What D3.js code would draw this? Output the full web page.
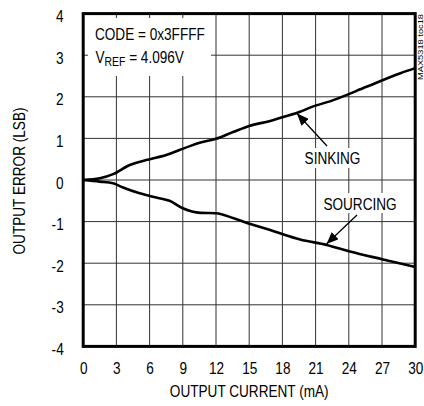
<!DOCTYPE html>
<html>
<head>
<meta charset="utf-8">
<script src="https://cdn.jsdelivr.net/npm/d3@7"></script>
<style>
  html, body { margin: 0; padding: 0; background: #fff; }
  svg { display: block; }
  text { font-family: "Liberation Sans Narrow", "Arial Narrow", "Liberation Sans", Arial, sans-serif; fill: #000; }
</style>
</head>
<body>
<svg id="chart" width="424" height="406"></svg>
<script>
// ---- data ----
const xTicks = [0, 3, 6, 9, 12, 15, 18, 21, 24, 27, 30];
const yTicks = [-4, -3, -2, -1, 0, 1, 2, 3, 4];

const sinkCurrent = [0, 1.5, 2.7, 4.2, 5.7, 7.5, 8.7, 9.7, 10.6, 12, 13.6, 15, 16.9, 18, 19.6, 20.5, 22.6, 25.6, 28.6, 30];
const sinkError   = [0, 0.04, 0.14, 0.36, 0.48, 0.60, 0.72, 0.82, 0.90, 0.99, 1.16, 1.30, 1.42, 1.51, 1.64, 1.74, 1.92, 2.24, 2.56, 2.69];

const sourceCurrent = [0, 1.5, 2.7, 3.6, 5.1, 6.6, 7.8, 9.0, 10.6, 12.0, 13.6, 15.1, 16.9, 18.1, 19.6, 22.0, 24.1, 27.1, 30];
const sourceError   = [0, -0.04, -0.08, -0.18, -0.32, -0.42, -0.50, -0.68, -0.79, -0.80, -0.92, -1.06, -1.20, -1.31, -1.43, -1.56, -1.72, -1.91, -2.09];

const xTitle = "OUTPUT CURRENT (mA)";
const yTitle = "OUTPUT ERROR (LSB)";
const noteLine1 = "CODE = 0x3FFFF";
const sinkLabel = "SINKING";
const sourceLabel = "SOURCING";
const figId = "MAX5318 toc18";

// ---- layout ----
const pLeft = 83.2, pRight = 415.2, pTop = 13.6, pBottom = 346.4;
const FS = 17, SX = 0.8;   // font size and horizontal condensing
const svg = d3.select("#chart");
const x = d3.scaleLinear().domain([0, 30]).range([pLeft, pRight]);
const y = d3.scaleLinear().domain([-4, 4]).range([pBottom, pTop]);

function ntext(px, py, str, anchor, rot) {
  return svg.append("text")
    .attr("transform", `translate(${px},${py})` + (rot ? ` rotate(${rot})` : "") + ` scale(${SX},1)`)
    .attr("text-anchor", anchor || "start").attr("font-size", FS).text(str);
}

// grid
const grid = svg.append("g").attr("stroke", "#333").attr("stroke-width", 1);
grid.selectAll("line.v").data(xTicks.slice(1, -1)).join("line").attr("class", "v")
  .attr("x1", d => x(d)).attr("x2", d => x(d)).attr("y1", pTop).attr("y2", pBottom);
grid.selectAll("line.h").data(yTicks.slice(1, -1)).join("line").attr("class", "h")
  .attr("y1", d => y(d)).attr("y2", d => y(d)).attr("x1", pLeft).attr("x2", pRight);

// white boxes behind annotations
svg.append("rect").attr("x", 88).attr("y", 18).attr("width", 123).attr("height", 58).attr("fill", "#fff");
svg.append("rect").attr("x", 302).attr("y", 148).attr("width", 62).attr("height", 20).attr("fill", "#fff");
svg.append("rect").attr("x", 320).attr("y", 193).attr("width", 80).attr("height", 20).attr("fill", "#fff");

// curves
const line = d3.line().x(d => x(d[0])).y(d => y(d[1])).curve(d3.curveMonotoneX);
svg.append("path").datum(d3.zip(sinkCurrent, sinkError)).attr("d", line)
  .attr("fill", "none").attr("stroke", "#000").attr("stroke-width", 2.6).attr("stroke-linejoin", "round");
svg.append("path").datum(d3.zip(sourceCurrent, sourceError)).attr("d", line)
  .attr("fill", "none").attr("stroke", "#000").attr("stroke-width", 2.6).attr("stroke-linejoin", "round");

// frame
svg.append("rect").attr("x", pLeft).attr("y", pTop).attr("width", pRight - pLeft).attr("height", pBottom - pTop)
  .attr("fill", "none").attr("stroke", "#000").attr("stroke-width", 3);

// axes (labels only)
const xAxis = svg.append("g").attr("transform", `translate(0,${pBottom})`)
  .call(d3.axisBottom(x).tickValues(xTicks).tickSize(0).tickPadding(16).tickFormat(d3.format("d")));
const yAxis = svg.append("g").attr("transform", `translate(${pLeft},0)`)
  .call(d3.axisLeft(y).tickValues(yTicks).tickSize(0).tickPadding(24.4).tickFormat(d => d < 0 ? "-" + Math.abs(d) : String(d)));
[xAxis, yAxis].forEach(a => {
  a.attr("font-family", null).attr("font-size", null);
  a.select(".domain").remove();
  a.selectAll("text").attr("font-size", FS).attr("fill", "#000").attr("transform", `scale(${SX},1)`);
});
yAxis.selectAll("text").attr("dy", "0.48em");

// titles
ntext((pLeft + pRight) / 2, 397, xTitle, "middle");
ntext(25, 181, yTitle, "middle", -90);

// note box
ntext(95, 40, noteLine1);
const t2 = svg.append("text").attr("transform", `translate(95.5,62.5) scale(${SX},1)`).attr("font-size", FS);
t2.append("tspan").text("V");
t2.append("tspan").attr("font-size", 13).attr("dy", 3).text("REF");
t2.append("tspan").attr("dy", -3).text(" = 4.096V");

// labels & arrows
svg.append("defs").append("marker").attr("id", "ah")
  .attr("viewBox", "0 0 12 10").attr("refX", 12).attr("refY", 5)
  .attr("markerWidth", 12).attr("markerHeight", 10).attr("markerUnits", "userSpaceOnUse")
  .attr("orient", "auto")
  .append("path").attr("d", "M0,0 L12,5 L0,10 Z").attr("fill", "#000");

ntext(332.5, 164, sinkLabel, "middle");
ntext(360, 210, sourceLabel, "middle");

svg.append("line").attr("x1", 327).attr("y1", 146).attr("x2", 297).attr("y2", 113.5)
  .attr("stroke", "#000").attr("stroke-width", 1.3).attr("marker-end", "url(#ah)");
svg.append("line").attr("x1", 357).attr("y1", 215).attr("x2", 326.5).attr("y2", 244)
  .attr("stroke", "#000").attr("stroke-width", 1.3).attr("marker-end", "url(#ah)");

// figure id
svg.append("text").attr("transform", "translate(422.5,80) rotate(-90)")
  .attr("font-size", 7.5).attr("fill", "#000").attr("textLength", 66).attr("lengthAdjust", "spacingAndGlyphs").text(figId);
</script>
</body>
</html>
